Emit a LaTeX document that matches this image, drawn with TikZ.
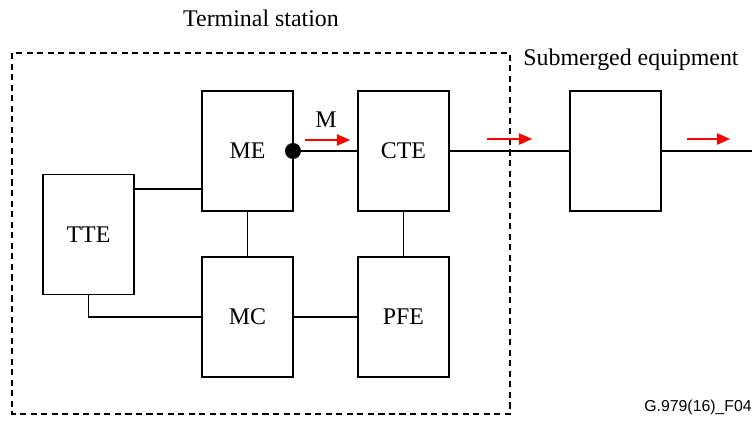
\documentclass[tikz,border=0pt]{standalone}
\usepackage{fontspec}
\setmainfont{Liberation Serif}
\setsansfont{Liberation Sans}
\usetikzlibrary{positioning,arrows.meta}

\begin{document}
\begin{tikzpicture}[
  x=0.02cm, y=-0.02cm,
  node distance=1.3cm,
  blk/.style={draw, line width=0.8pt, minimum width=1.82cm, minimum height=2.4cm, inner sep=0pt, outer sep=0pt, font=\fontsize{13.6}{16}\selectfont},
  dot/.style={circle, fill, minimum size=0.32cm, inner sep=0pt},
  wire/.style={line width=0.8pt},
  sig/.style={-{Triangle[length=7.5pt, width=6.5pt]}, red, line width=0.8pt},
  frame/.style={line width=0.8pt, dash pattern=on 3.5pt off 2.5pt},
  lbl/.style={font=\fontsize{13.6}{16}\selectfont, inner sep=0pt},
  tag/.style={font=\sffamily\fontsize{9}{11}\selectfont, inner sep=0pt},
]
  \useasboundingbox (0,0) rectangle (752,421);

  % Terminal station frame
  \draw[frame] (12,53) rectangle (510,414);

  % Nodes
  \node[blk] (me) at (247.5,151) {ME};
  \node[blk, right=1.3cm of me] (cte) {CTE};
  \node[blk, below=0.92cm of me] (mc) {MC};
  \node[blk, below=0.92cm of cte] (pfe) {PFE};
  \node[blk] (tte) at (88.5,234.5) {TTE};
  \node[blk, right=2.42cm of cte] (sub) {};
  \node[dot] (tap) at (me.east) {};
  \coordinate (out) at (752,151);

  % Labels
  \node[lbl] (ts) at (261,18) {Terminal station};
  \node[lbl, anchor=west] (se) at (523,60) {Submerged equipment};
  \node[lbl] (m) at (326,120) {M};
  \node[tag, anchor=east] (fig) at (752,407) {G.979(16)\_F04};

  % Connections
  \draw[wire] (tte.east |- 0,189) -- (me.west |- 0,189);
  \draw[wire] (tte.south) |- (mc.west);
  \draw[wire] (me) -- (mc);
  \draw[wire] (cte) -- (pfe);
  \draw[wire] (mc) -- (pfe);
  \draw[wire] (tap) -- (cte);
  \draw[wire] (cte) -- (sub);
  \draw[wire] (sub) -- (out);

  % Signal direction
  \coordinate (a1) at (305,140);
  \coordinate (b1) at (350,140);
  \coordinate (a2) at (487,139);
  \coordinate (b2) at (532,139);
  \coordinate (a3) at (687,139);
  \coordinate (b3) at (730,139);
  \draw[sig] (a1) -- (b1);
  \draw[sig] (a2) -- (b2);
  \draw[sig] (a3) -- (b3);
\end{tikzpicture}
\end{document}
